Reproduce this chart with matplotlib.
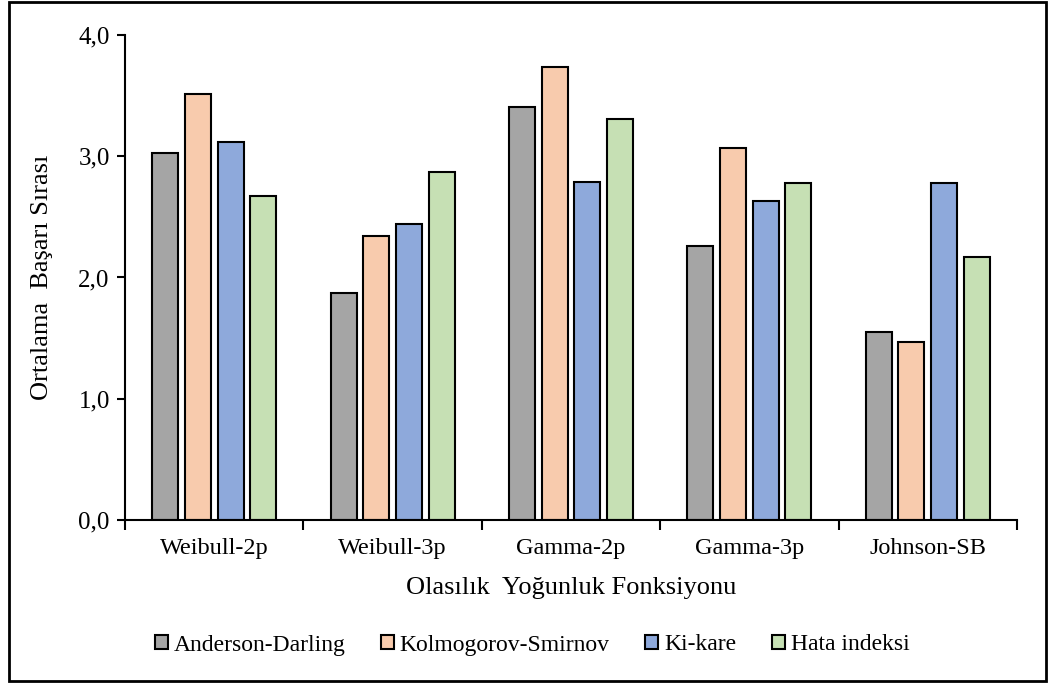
"""
Ortalama başarı sırası - olasılık yoğunluk fonksiyonlarına göre
"""

import numpy as np
import matplotlib
matplotlib.use("Agg")
import matplotlib.pyplot as plt
from matplotlib.patches import Rectangle
from matplotlib.ticker import FixedLocator, FuncFormatter

# Veriler
dagilimlar = ["Weibull-2p", "Weibull-3p", "Gamma-2p", "Gamma-3p", "Johnson-SB"]
testler = ["Anderson-Darling", "Kolmogorov-Smirnov", "Ki-kare", "Hata indeksi"]
anderson_darling = [3.03, 1.87, 3.41, 2.26, 1.55]
kolmogorov_smirnov = [3.51, 2.34, 3.74, 3.07, 1.47]
ki_kare = [3.12, 2.44, 2.79, 2.63, 2.78]
hata_indeksi = [2.67, 2.87, 3.31, 2.78, 2.17]
y_ticks = [0.0, 1.0, 2.0, 3.0, 4.0]

renkler = ["#A5A5A5", "#F8CBAD", "#8EA9DB", "#C6E0B4"]

plt.rcParams["font.family"] = ["Liberation Serif", "DejaVu Serif"]

fig = plt.figure(figsize=(10.48, 6.84), dpi=100)
ax = fig.add_axes([0.1193, 0.2398, 0.8511, 0.709])

x = np.arange(len(dagilimlar))
seriler = [anderson_darling, kolmogorov_smirnov, ki_kare, hata_indeksi]
adim = 0.183
genislik = 0.146
for i, (ad, degerler) in enumerate(zip(testler, seriler)):
    ax.bar(x + (i - 1.5) * adim, degerler, width=genislik, color=renkler[i],
           edgecolor="black", linewidth=1.5, label=ad, zorder=2)

ax.set_xlim(-0.5, len(dagilimlar) - 0.5)
ax.set_ylim(0, 4.0)
ax.set_yticks(y_ticks)
ax.yaxis.set_major_formatter(FuncFormatter(lambda v, p: f"{v:.1f}".replace(".", ",")))

# x ekseni: ana çizgiler kategori sınırlarında, etiketler ortada
ax.xaxis.set_major_locator(FixedLocator(np.arange(-0.5, len(dagilimlar), 1.0)))
ax.xaxis.set_minor_locator(FixedLocator(x))
ax.xaxis.set_major_formatter(FuncFormatter(lambda v, p: ""))
ax.set_xticklabels(dagilimlar, minor=True)
ax.tick_params(axis="x", which="minor", length=0, pad=13, labelsize=17.5)
ax.tick_params(axis="x", which="major", length=7, width=1.5, direction="out")
ax.tick_params(axis="y", length=6, width=1.5, direction="out", labelsize=18, pad=5)

for s in ["top", "right"]:
    ax.spines[s].set_visible(False)
for s in ["left", "bottom"]:
    ax.spines[s].set_linewidth(1.5)

ax.set_xlabel("Olasılık  Yoğunluk Fonksiyonu", fontsize=19, labelpad=13)
ax.set_ylabel("Ortalama  Başarı Sırası", fontsize=19, labelpad=18)

fig.legend(loc="center", bbox_to_anchor=(532 / 1048, 1 - 645 / 684), ncol=4,
           frameon=False, fontsize=17, handlelength=0.55, handleheight=0.55,
           handletextpad=0.25, columnspacing=1.5)

# dış çerçeve
fig.patches.append(Rectangle((9 / 1048, 3 / 684), 1037 / 1048, 679 / 684,
                             transform=fig.transFigure, fill=False,
                             edgecolor="black", linewidth=2))

fig.savefig("out.png", dpi=100)
plt.close()
